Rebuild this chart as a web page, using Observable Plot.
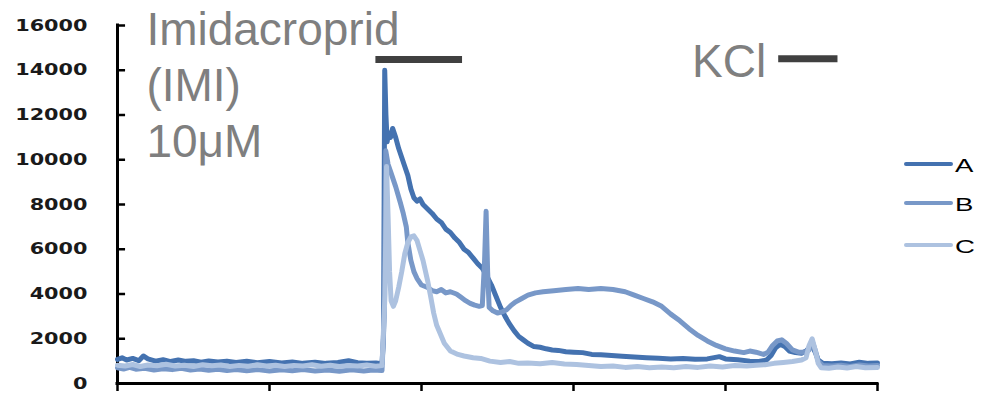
<!DOCTYPE html>
<html>
<head>
<meta charset="utf-8">
<script src="https://cdn.jsdelivr.net/npm/d3@7"></script>
<script src="https://cdn.jsdelivr.net/npm/@observablehq/plot@0.6"></script>
<style>
  html, body { margin: 0; padding: 0; background: white; }
  #wrap { position: relative; width: 990px; height: 397px; }
  #legend { position: absolute; left: 0; top: 0; pointer-events: none; }
</style>
</head>
<body>
<div id="wrap"></div>
<script>
// ---- data (time in arbitrary units, fluorescence values) ----
const seriesNames = ["A", "B", "C"];
const seriesColors = ["#4472b0", "#7898c8", "#adc2e0"];
const yTicks = [0, 2000, 4000, 6000, 8000, 10000, 12000, 14000, 16000];
const xTicks = [0, 100, 200, 300, 400, 500];

const seriesA = [
  [0,1080],[3,1150],[6,1050],[10,1120],[14,1020],[17,1230],[20,1100],[25,1000],[30,1060],[35,980],
  [40,1050],[45,990],[50,1020],[55,950],[60,1010],[66,960],[72,1000],[78,940],[85,990],[92,930],
  [100,980],[108,920],[115,960],[122,900],[130,950],[137,900],[145,940],[152,1020],[158,930],[164,900],
  [170,920],[174,880],
  [175,2000],[175.8,14000],[176.6,12000],[177.4,10800],[178.3,11200],[179.6,11000],[181,11400],[183,11000],
  [185,10500],[187,10100],[189,9700],[191,9300],[193,8700],[195,8300],[197,8150],[199,8250],[201,8000],
  [204,7800],[207,7600],[210,7350],[213,7200],[216,6900],[219,6750],[222,6500],[225,6300],[228,6000],
  [231,5850],[234,5600],[237,5350],[240,5150],[243,4800],[246,4400],[249,3900],[252,3400],[255,3000],
  [258,2650],[261,2350],[264,2100],[267,1950],[270,1800],[274,1650],[278,1620],[282,1550],[286,1500],
  [290,1480],[295,1420],[300,1400],[306,1380],[312,1300],[318,1280],[325,1250],[332,1220],[340,1180],
  [348,1150],[356,1130],[364,1100],[372,1120],[380,1080],[388,1100],[396,1200],[400,1100],[408,1060],
  [416,1000],[422,980],[427,1050],[430,1250],[433,1600],[436,1750],[439,1650],[442,1450],[446,1380],
  [450,1350],[453,1450],[455,1600],[457,1700],[459,1400],[461,1050],[464,900],[470,880],[476,920],
  [482,870],[488,950],[494,900],[500,920]
];

const seriesB = [
  [0,700],[4,650],[8,720],[12,640],[18,680],[24,600],[30,660],[36,620],[42,680],[48,600],[54,650],
  [60,590],[66,640],[72,580],[78,630],[85,570],[92,620],[100,560],[108,610],[115,570],[122,620],
  [130,560],[138,600],[146,550],[154,610],[162,560],[168,600],[174,580],
  [175.5,3000],[176.5,10400],[178,9800],[180,9400],[183,8800],[186,8100],[188,7600],[190,7000],
  [191,6300],[193,5500],[195,5000],[197,4700],[200,4400],[204,4290],[207,4150],[210,4100],[213,4200],
  [216,4050],[219,4100],[223,4000],[226,3850],[229,3700],[232,3580],[235,3500],[238,3450],[240,3480],
  [241.5,5500],[242.5,7700],[243.5,5000],[244.5,3400],[247,3250],[250,3150],[253,3200],[256,3300],
  [259,3500],[262,3650],[266,3800],[270,3950],[275,4050],[280,4100],[287,4150],[295,4200],[303,4250],
  [310,4200],[318,4250],[326,4200],[334,4100],[340,3950],[346,3800],[352,3650],[358,3450],[364,3100],
  [370,2800],[376,2450],[382,2150],[388,1900],[394,1700],[400,1550],[406,1450],[412,1380],[416,1450],
  [420,1400],[425,1300],[428,1400],[431,1700],[434,1900],[437,1950],[440,1800],[444,1500],[448,1400],
  [452,1400],[455,1500],[457,1900],[459,1500],[461,1000],[464,800],[470,780],[476,820],[482,760],
  [488,830],[494,780],[500,800]
];

const seriesC = [
  [0,820],[5,780],[10,850],[15,760],[20,830],[26,790],[32,860],[38,780],[44,820],[50,760],[56,840],
  [62,790],[68,830],[74,760],[80,810],[86,770],[92,840],[98,780],[104,820],[110,760],[116,810],
  [122,780],[128,840],[134,770],[140,820],[146,760],[152,800],[158,780],[164,830],[170,770],[174,800],
  [176,4000],[177,9700],[178,7500],[179,5000],[180,3700],[181.5,3450],[183,3700],[185,4300],[187,5000],
  [189,5800],[191,6300],[193,6550],[195,6600],[197,6400],[199,5950],[201,5500],[204,4600],[206,3900],
  [208,3150],[210,2600],[212.5,2200],[215,1800],[219,1450],[224,1300],[228,1230],[234,1150],[239,1120],
  [245,1000],[252,940],[258,980],[264,900],[270,920],[278,880],[286,940],[294,870],[302,850],[310,800],
  [318,760],[326,780],[334,720],[342,760],[350,700],[358,740],[366,700],[374,760],[382,720],[390,780],
  [398,740],[406,800],[414,780],[420,820],[426,840],[432,900],[438,940],[444,980],[450,1050],[453,1150],
  [455,1700],[457,2000],[459,1500],[461,900],[463,700],[468,680],[474,740],[480,690],[486,760],
  [492,700],[500,720]
];

// stimulus annotations
const stimLabels = ["Imidacroprid\n(IMI)\n10μM", "KCl"];
const stimLabelX = [19, 378];
const stimLabelY = [16900, 15500];
const stimBarStart = [170, 435];
const stimBarEnd = [227, 474];
const stimBarY = [14480, 14510];

// ---- build tables ----
const allSeries = [seriesA, seriesB, seriesC];
const lineData = allSeries.flatMap((s, i) => s.map(([t, v]) => ({series: seriesNames[i], t, v})));
const labelData = stimLabels.map((text, i) => ({text, x: stimLabelX[i], y: stimLabelY[i]}));
const barData = stimBarStart.map((s, i) => ({start: s, end: stimBarEnd[i], y: stimBarY[i]}));

const chart = Plot.plot({
  width: 990,
  height: 397,
  marginLeft: 117,
  marginRight: 113,
  marginTop: 25,
  marginBottom: 14,
  x: {domain: [0, 500]},
  y: {domain: [0, 16000]},
  color: {domain: seriesNames, range: seriesColors},
  style: {background: "white", fontFamily: "DejaVu Sans"},
  marks: [
    Plot.axisY({ticks: yTicks, tickSize: 0, tickPadding: 30, tickFormat: d => String(d), fontSize: 16, fontWeight: "bold", fill: "#1a1a1a", label: null}),
    Plot.ruleY(yTicks, {x1: 0, x2: 5.3, stroke: "black", strokeWidth: 2.5}),
    Plot.axisX({ticks: xTicks, tickSize: 8, tickFormat: () => "", label: null, stroke: "black", strokeWidth: 2.5}),
    Plot.ruleX([0], {stroke: "black", strokeWidth: 3, strokeLinecap: "square"}),
    Plot.ruleY([0], {stroke: "black", strokeWidth: 3, strokeLinecap: "square"}),
    Plot.line(lineData, {x: "t", y: "v", z: "series", stroke: "series", strokeWidth: 5, strokeLinejoin: "round", curve: "linear"}),
    Plot.ruleY(barData, {x1: "start", x2: "end", y: "y", stroke: "#404040", strokeWidth: 7}),
    Plot.text(labelData, {x: "x", y: "y", text: "text", textAnchor: "start", lineAnchor: "top", fontSize: 46, fontFamily: "Liberation Sans", fill: "#7f7f7f", lineHeight: 1.22})
  ]
});

const wrap = document.getElementById("wrap");
wrap.appendChild(chart);

// widen y tick labels horizontally (the reference uses a wide face)
const yLab = d3.select(chart).select('g[aria-label="y-axis tick label"]');
if (!yLab.empty()) {
  const r = yLab.node().getBoundingClientRect();
  const wr = chart.getBoundingClientRect();
  const R = r.right - wr.left;
  const prev = yLab.attr("transform") || "";
  yLab.attr("transform", `translate(${R},0) scale(1.3,1) translate(${-R},0) ${prev}`);
}

// legend on the right
const leg = d3.select(wrap).append("svg")
  .attr("id", "legend").attr("width", 990).attr("height", 397);
const legY = [164, 203, 245];
seriesNames.forEach((name, i) => {
  leg.append("line").attr("x1", 906).attr("x2", 951).attr("y1", legY[i]).attr("y2", legY[i])
    .attr("stroke", seriesColors[i]).attr("stroke-width", 4).attr("stroke-linecap", "round");
  leg.append("text").attr("x", 0).attr("y", 0)
    .attr("transform", `translate(955,${legY[i] + 8}) scale(1.45,1)`)
    .attr("font-family", "Liberation Sans").attr("font-size", 19).attr("fill", "black")
    .text(name);
});
</script>
</body>
</html>
